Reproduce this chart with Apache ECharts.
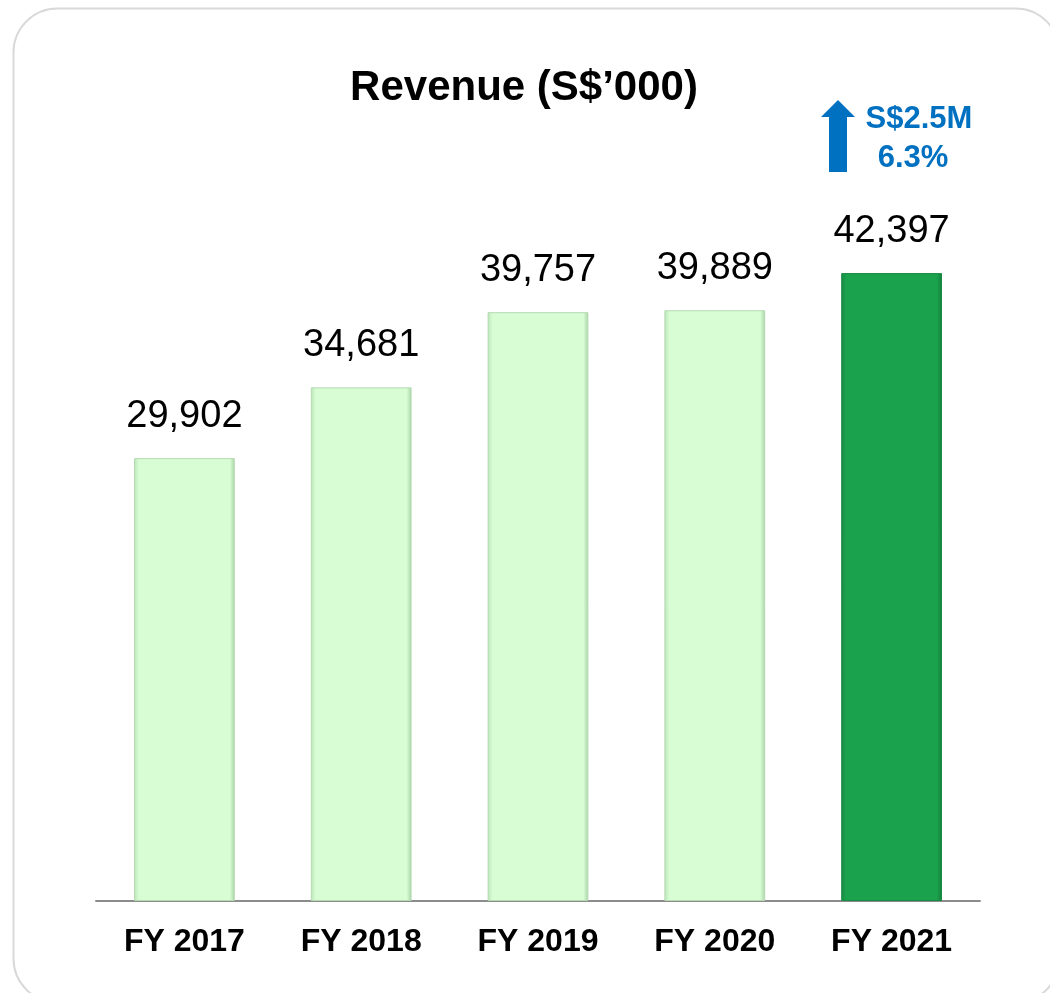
<!DOCTYPE html>
<html>
<head>
<meta charset="utf-8">
<script src="https://cdn.jsdelivr.net/npm/echarts@6/dist/echarts.min.js"></script>
<style>html,body{margin:0;padding:0;background:#fff}#c{width:1050px;height:993px}</style>
</head>
<body>
<div id="c"></div>
<script>
const categories = ['FY 2017', 'FY 2018', 'FY 2019', 'FY 2020', 'FY 2021'];
const revenue = [29902, 34681, 39757, 39889, 42397];
const titleText = 'Revenue (S$\u2019000)';
const changeAmount = 'S$2.5M';
const changePct = '6.3%';

const chart = echarts.init(document.getElementById('c'));
const font = '"Liberation Sans", Arial, sans-serif';
const lightFill = {
  type: 'linear', x: 0, y: 0, x2: 1, y2: 0,
  colorStops: [
    {offset: 0, color: '#b9e6b6'}, {offset: 0.05, color: '#d8fdd5'},
    {offset: 0.95, color: '#d8fdd5'}, {offset: 1, color: '#a9d3a6'}
  ]
};
const darkFill = {
  type: 'linear', x: 0, y: 0, x2: 1, y2: 0,
  colorStops: [
    {offset: 0, color: '#1a8c45'}, {offset: 0.05, color: '#1aa24d'},
    {offset: 0.95, color: '#1aa24d'}, {offset: 1, color: '#157d3c'}
  ]
};

chart.setOption({
  animation: false,
  title: {
    text: titleText, left: 519, top: 62, textAlign: 'center',
    textStyle: {fontFamily: font, fontSize: 42, fontWeight: 'bold', color: '#000'}
  },
  grid: {left: 96, right: 70, top: 160.5, bottom: 92},
  xAxis: {
    type: 'category', data: categories,
    axisLine: {lineStyle: {color: '#8c8c8c', width: 2}},
    axisTick: {show: false},
    axisLabel: {fontFamily: font, fontSize: 32, fontWeight: 'bold', color: '#000', margin: 25}
  },
  yAxis: {type: 'value', min: 0, max: 50000, show: false, splitLine: {show: false}},
  series: [{
    type: 'bar', barWidth: '57%',
    data: revenue.map((v, i) => ({
      value: v,
      itemStyle: {
        color: i === revenue.length - 1 ? darkFill : lightFill,
        borderColor: i === revenue.length - 1 ? '#178a41' : '#b5d9b2',
        borderWidth: 1
      }
    })),
    label: {
      show: true, position: 'top', distance: 23,
      fontFamily: font, fontSize: 38, color: '#000',
      formatter: p => p.value.toLocaleString('en-US')
    }
  }],
  graphic: [
    {
      type: 'rect', left: 11, top: 6, z: -1, silent: true,
      shape: {width: 1046, height: 994, r: 44},
      style: {fill: 'none', stroke: '#d9d9d9', lineWidth: 2}
    },
    {
      type: 'polygon', z: 10,
      shape: {points: [[838, 100], [855, 117], [847, 117], [847, 172], [829, 172], [829, 117], [821, 117]]},
      style: {fill: '#0070c0'}
    },
    {
      type: 'text', x: 919, y: 119, z: 10,
      style: {text: changeAmount, fill: '#0070c0', font: 'bold 31px ' + font, align: 'center', verticalAlign: 'middle'}
    },
    {
      type: 'text', x: 913, y: 158, z: 10,
      style: {text: changePct, fill: '#0070c0', font: 'bold 31px ' + font, align: 'center', verticalAlign: 'middle'}
    }
  ]
});
</script>
</body>
</html>
